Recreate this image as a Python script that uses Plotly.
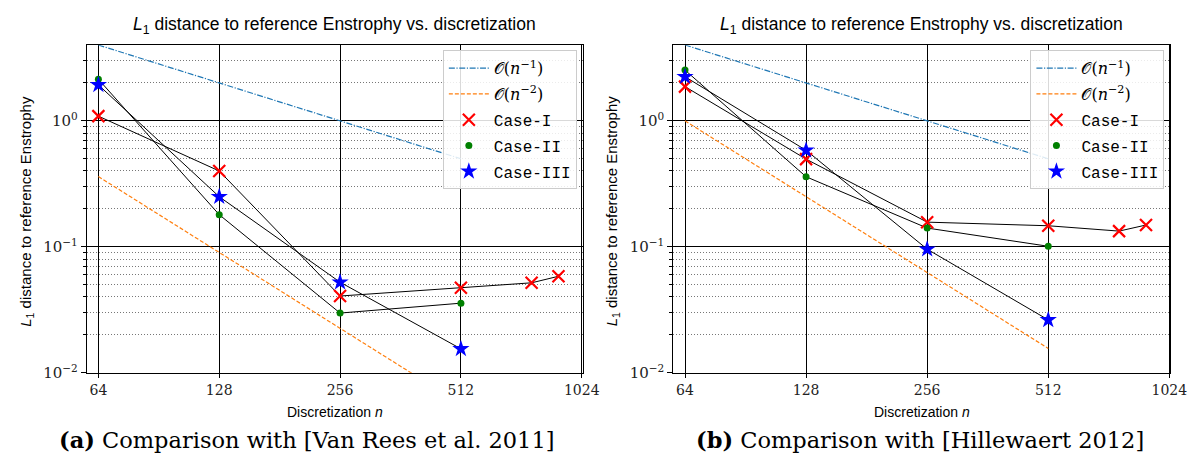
import plotly.graph_objects as go

# ---------------- data ----------------
n_main = [64, 128, 256, 512]
n_case1 = [64, 128, 256, 512, 768, 896]
n_ref = [64, 128, 256, 512]

# panel (a): comparison with Van Rees et al. 2011
a_case1 = [1.09, 0.400, 0.0407, 0.0473, 0.0518, 0.0584]
a_case2 = [2.14, 0.180, 0.0298, 0.0357]
a_case3 = [1.93, 0.250, 0.0524, 0.0155]
a_ref1 = [4.0, 2.0, 1.0, 0.5]
a_ref2 = [0.361, 0.0903, 0.0226, 0.00564]

# panel (b): comparison with Hillewaert 2012
b_case1 = [1.87, 0.497, 0.157, 0.147, 0.1333, 0.149]
b_case2 = [2.53, 0.360, 0.141, 0.101]
b_case3 = [2.24, 0.584, 0.0958, 0.0263]
b_ref1 = [4.0, 2.0, 1.0, 0.5]
b_ref2 = [1.0, 0.25, 0.0625, 0.015625]

x_ticks = [64, 128, 256, 512, 1024]
x_ticktext = ["64", "128", "256", "512", "1024"]
y_ticks = [0.01, 0.1, 1]
y_ticktext = ["10<sup>−2</sup>", "10<sup>−1</sup>", "10<sup>0</sup>"]
y_minor = [k * 10.0 ** e for e in (-2, -1, 0) for k in range(2, 10) if k * 10.0 ** e < 4]

title_text = "<i>L</i><sub>1</sub> distance to reference Enstrophy vs. discretization"
ylabel_text = "<i>L</i><sub>1</sub> distance to reference Enstrophy"
xlabel_text = "Discretization <i>n</i>"
captions = ["<b>(a)</b> Comparison with [Van Rees et al. 2011]",
            "<b>(b)</b> Comparison with [Hillewaert 2012]"]

W, H = 1203, 466
SANS = "Liberation Sans"
SERIF = "DejaVu Serif"
MONO = "Liberation Mono"

fig = go.Figure()

panels = [
    dict(xa="x", ya="y", leg="legend", c1=a_case1, c2=a_case2, c3=a_case3, r1=a_ref1, r2=a_ref2,
         x0=80, x1=583, cap_cx=303),
    dict(xa="x2", ya="y2", leg="legend2", c1=b_case1, c2=b_case2, c3=b_case3, r1=b_ref1, r2=b_ref2,
         x0=675, x1=1179, cap_cx=925),
]

ref1_name = '<span style="font-family:DejaVu Serif">𝒪(<i>n</i><sup>−1</sup>)</span>'
ref2_name = '<span style="font-family:DejaVu Serif">𝒪(<i>n</i><sup>−2</sup>)</span>'

for k, p in enumerate(panels):
    xa, ya, leg = p["xa"], p["ya"], p["leg"]
    fig.add_trace(go.Scatter(x=n_ref, y=p["r1"], mode="lines", name=ref1_name, legendgroup=f"r1{k}",
                             line=dict(color="#1f77b4", width=1.2, dash="6px,1.6px,1.2px,1.6px"),
                             xaxis=xa, yaxis=ya, legend=leg))
    fig.add_trace(go.Scatter(x=n_ref, y=p["r2"], mode="lines", name=ref2_name, legendgroup=f"r2{k}",
                             line=dict(color="#ff7f0e", width=1.2, dash="4px,2px"),
                             xaxis=xa, yaxis=ya, legend=leg))
    # black connecting lines
    for xs, ys in ((n_case1, p["c1"]), (n_main, p["c2"]), (n_main, p["c3"])):
        fig.add_trace(go.Scatter(x=xs, y=ys, mode="lines", showlegend=False, hoverinfo="skip",
                                 line=dict(color="black", width=1), xaxis=xa, yaxis=ya))
    fig.add_trace(go.Scatter(x=n_case1, y=p["c1"], mode="markers", name="Case-I", legendgroup=f"c1{k}",
                             marker=dict(symbol="x-thin", size=12, color="red",
                                         line=dict(color="red", width=2.2)),
                             xaxis=xa, yaxis=ya, legend=leg))
    fig.add_trace(go.Scatter(x=n_main, y=p["c2"], mode="markers", name="Case-II", legendgroup=f"c2{k}",
                             marker=dict(symbol="circle", size=7, color="green"),
                             xaxis=xa, yaxis=ya, legend=leg))
    fig.add_trace(go.Scatter(x=n_main, y=p["c3"], mode="markers", name="Case-III", legendgroup=f"c3{k}",
                             marker=dict(symbol="star", size=13, color="blue", line=dict(width=0)),
                             xaxis=xa, yaxis=ya, legend=leg))

y_top, y_bot = 38, 372
ydom = [1 - y_bot / H, 1 - y_top / H]

axis_common_x = dict(type="log", range=[1.7775, 3.0128], tickvals=x_ticks, ticktext=x_ticktext,
                     showgrid=True, gridcolor="black", gridwidth=1, zeroline=False,
                     showline=True, linecolor="black", linewidth=1.3, mirror=True,
                     ticks="outside", ticklen=4, tickcolor="black",
                     tickfont=dict(family=SERIF, size=14, color="#222"))
axis_common_y = dict(type="log", range=[-2, 0.6], tickvals=y_ticks, ticktext=y_ticktext, domain=ydom,
                     showgrid=True, gridcolor="black", gridwidth=1, zeroline=False,
                     showline=True, linecolor="black", linewidth=1.3, mirror=True,
                     ticks="outside", ticklen=5, tickcolor="black",
                     tickfont=dict(family=SERIF, size=15, color="#222"),
                     minor=dict(tickmode="array", tickvals=y_minor, ticks="outside", ticklen=3,
                                tickcolor="black", showgrid=True, gridcolor="#777",
                                griddash="1px,2px", gridwidth=1))

fig.update_layout(
    xaxis=dict(axis_common_x, domain=[80 / W, 583 / W], anchor="y"),
    yaxis=dict(axis_common_y, anchor="x"),
    xaxis2=dict(axis_common_x, domain=[675 / W, 1179 / W], anchor="y2"),
    yaxis2=dict(axis_common_y, anchor="x2"),
)

legend_common = dict(xanchor="right", yanchor="top", y=1 - 43 / H,
                     bgcolor="rgba(255,255,255,0.85)", bordercolor="#cccccc", borderwidth=1,
                     font=dict(family=MONO, size=16, color="black"), traceorder="grouped",
                     tracegroupgap=2, itemwidth=40)
fig.update_layout(
    legend=dict(legend_common, x=577 / W),
    legend2=dict(legend_common, x=1173 / W),
)

annotations = []
for i, p in enumerate(panels):
    cx = (p["x0"] + p["x1"]) / 2 / W
    annotations.append(dict(text=title_text, x=cx, y=1 - 18 / H, xref="paper", yref="paper",
                            showarrow=False, xanchor="center", yanchor="middle",
                            font=dict(family=SANS, size=17.5, color="black")))
    annotations.append(dict(text=xlabel_text, x=cx, y=1 - 412 / H, xref="paper", yref="paper",
                            showarrow=False, xanchor="center", yanchor="middle",
                            font=dict(family=SANS, size=14, color="black")))
    annotations.append(dict(text=ylabel_text, x=(p["x0"] - 62) / W, y=1 - 207 / H,
                            xref="paper", yref="paper", textangle=-90,
                            showarrow=False, xanchor="center", yanchor="middle",
                            font=dict(family=SANS, size=15, color="black")))
    annotations.append(dict(text=captions[i], x=p["cap_cx"] / W, y=1 - 440 / H, xref="paper", yref="paper",
                            showarrow=False, xanchor="center", yanchor="middle",
                            font=dict(family=SERIF, size=22.5, color="black")))

fig.update_layout(
    annotations=annotations,
    width=W, height=H,
    margin=dict(l=0, r=0, t=0, b=0),
    paper_bgcolor="white", plot_bgcolor="white",
)

fig.write_html("out.html")
